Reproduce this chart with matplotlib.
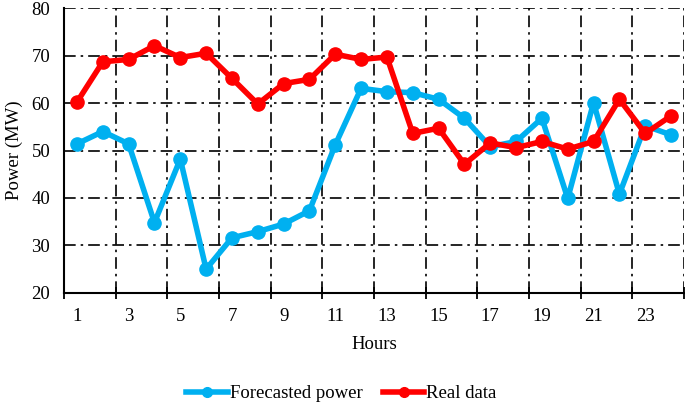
import numpy as np
import matplotlib.pyplot as plt
from matplotlib.lines import Line2D

plt.rcParams['font.family'] = ['Liberation Serif', 'DejaVu Serif']

hours = list(range(1, 25))
forecasted = [51.4, 54.0, 51.4, 34.8, 48.2, 25.0, 31.6, 32.9, 34.5, 37.3, 51.2, 63.1,
              62.4, 62.2, 60.8, 56.8, 50.8, 51.9, 56.8, 39.9, 60.1, 40.8, 55.2, 53.3]
real = [60.2, 68.7, 69.2, 72.1, 69.6, 70.5, 65.2, 59.8, 64.1, 65.0, 70.3, 69.2,
        69.7, 53.6, 54.7, 47.1, 51.6, 50.6, 51.9, 50.3, 51.9, 60.8, 53.6, 57.3]
tick_labels = [str(h) for h in range(1, 24, 2)]

blue = '#00B0F0'
red = '#FF0000'

fig = plt.figure(figsize=(6.85, 4.09), dpi=100)
ax = fig.add_axes([0.0935, 0.284, 0.905, 0.696])

grid_style = (0, (7, 3, 1.5, 3))
for v in range(30, 90, 10):
    ax.axhline(v, color='black', lw=1.2, ls=grid_style, zorder=1)
for b in np.arange(2.5, 25, 2):
    ax.axvline(b, color='black', lw=1.2, ls=grid_style, zorder=1)

ax.plot(hours, forecasted, color=blue, lw=4, marker='o', ms=9.5, zorder=3)
ax.plot(hours, real, color=red, lw=4, marker='o', ms=9.5, zorder=4)

ax.set_xlim(0.5, 24.5)
ax.set_ylim(20, 80)
ax.set_yticks(range(20, 90, 10))
ax.set_xticks(np.arange(0.5, 25, 2))
ax.set_xticklabels([])
ax.set_xticks(range(1, 24, 2), minor=True)
ax.set_xticklabels(tick_labels, minor=True)
ax.tick_params(axis='x', which='major', direction='inout', length=8, width=1.3)
ax.tick_params(axis='x', which='minor', length=0, pad=11, labelsize=13.5)
ax.tick_params(axis='y', length=0, pad=10, labelsize=13.5)

for s in ['top', 'right']:
    ax.spines[s].set_visible(False)
for s in ['left', 'bottom']:
    ax.spines[s].set_linewidth(1.5)

ax.set_xlabel('Hours', fontsize=13.5, labelpad=8)
ax.set_ylabel('Power (MW)', fontsize=13.5, labelpad=6)

handles = [Line2D([], [], color=blue, lw=4, marker='o', ms=7),
           Line2D([], [], color=red, lw=4, marker='o', ms=7)]
fig.legend(handles, ['Forecasted power', 'Real data'], loc='center',
           bbox_to_anchor=(0.4985, 0.037), ncol=2, frameon=False, fontsize=13.5,
           handlelength=2.2, handletextpad=0.1, columnspacing=1.1)

fig.savefig('out.png', dpi=100)
